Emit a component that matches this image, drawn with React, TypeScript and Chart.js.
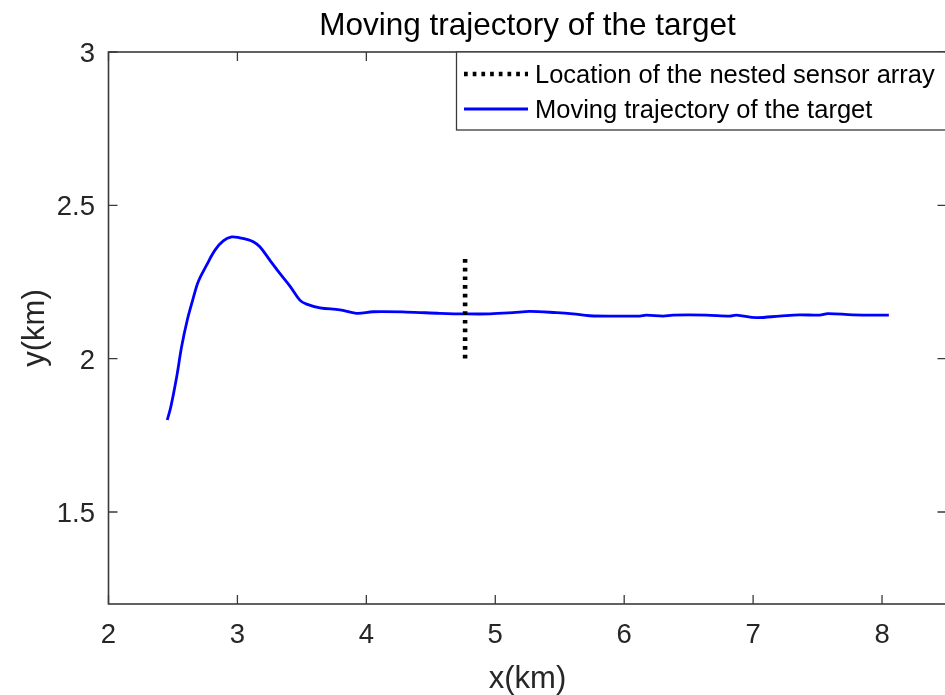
import React, { useEffect, useRef } from "react";
import { Chart, registerables } from "chart.js";

Chart.register(...registerables);

const TITLE = "Moving trajectory of the target";
const X_LABEL = "x(km)";
const Y_LABEL = "y(km)";

const SENSOR_LABEL = "Location of the nested sensor array";
const SENSOR_X = [4.766, 4.766];
const SENSOR_Y = [2.325, 1.985];

const TRACK_LABEL = "Moving trajectory of the target";
const TRACK_X = [
  2.456, 2.484, 2.529, 2.567, 2.611, 2.653, 2.696, 2.761, 2.826, 2.89, 2.955,
  3.019, 3.08, 3.123, 3.174, 3.25, 3.329, 3.41, 3.484, 3.536, 3.64, 3.795,
  3.924, 4.053, 4.312, 4.57, 4.766, 4.957, 5.138, 5.267, 5.474, 5.603, 5.733,
  5.965, 6.12, 6.172, 6.301, 6.378, 6.637, 6.818, 6.87, 7.025, 7.205, 7.36,
  7.516, 7.58, 7.774, 8.053,
];
const TRACK_Y = [
  1.8, 1.844, 1.941, 2.039, 2.126, 2.191, 2.251, 2.305, 2.354, 2.384, 2.397,
  2.394, 2.388, 2.381, 2.365, 2.322, 2.278, 2.235, 2.191, 2.178, 2.166, 2.159,
  2.148, 2.153, 2.152, 2.148, 2.146, 2.146, 2.15, 2.154, 2.15, 2.146, 2.14,
  2.139, 2.139, 2.142, 2.139, 2.142, 2.142, 2.139, 2.142, 2.134, 2.139, 2.143,
  2.142, 2.147, 2.143, 2.142,
];

const X_MIN = 2;
const X_MAX = 8.5;
const X_STEP = 1;
const Y_MIN = 1.2;
const Y_MAX = 3;
const Y_STEP = 0.5;

const FONT = "'Liberation Sans', Arial, Helvetica, sans-serif";
const AXIS_COLOR = "#3a3a3a";

const boxAndLegend = {
  id: "boxAndLegend",
  afterDraw(chart: any) {
    const { ctx, chartArea: a, scales } = chart;
    const TICK = 9;
    ctx.save();
    ctx.strokeStyle = AXIS_COLOR;
    ctx.lineWidth = 1.3;
    ctx.beginPath();
    for (const t of scales.x.ticks) {
      const px = scales.x.getPixelForValue(t.value);
      ctx.moveTo(px, a.bottom);
      ctx.lineTo(px, a.bottom - TICK);
      ctx.moveTo(px, a.top);
      ctx.lineTo(px, a.top + TICK);
    }
    for (const t of scales.y.ticks) {
      const py = scales.y.getPixelForValue(t.value);
      ctx.moveTo(a.left, py);
      ctx.lineTo(a.left + TICK, py);
      ctx.moveTo(a.right, py);
      ctx.lineTo(a.right - TICK, py);
    }
    ctx.stroke();
    ctx.lineWidth = 1.6;
    ctx.strokeRect(a.left, a.top, a.right - a.left, a.bottom - a.top);

    // legend
    const lx = 456.5;
    const ly = a.top;
    const lb = 130;
    ctx.fillStyle = "#fff";
    ctx.fillRect(lx, ly, a.right - lx, lb - ly);
    ctx.lineWidth = 1.3;
    ctx.strokeStyle = AXIS_COLOR;
    ctx.strokeRect(lx, ly, a.right - lx, lb - ly);
    const rows = [74, 109];
    chart.data.datasets.forEach((ds: any, i: number) => {
      const y = rows[i];
      ctx.save();
      ctx.beginPath();
      ctx.strokeStyle = ds.borderColor;
      ctx.lineWidth = ds.borderWidth;
      ctx.lineCap = "butt";
      ctx.setLineDash(ds.borderDash || []);
      ctx.moveTo(464, y);
      ctx.lineTo(528, y);
      ctx.stroke();
      ctx.restore();
      ctx.fillStyle = "#000";
      ctx.font = `25.5px ${FONT}`;
      ctx.textBaseline = "middle";
      ctx.textAlign = "left";
      ctx.fillText(ds.label, 535, y + 2);
    });
    ctx.restore();
  },
};

export default function App() {
  const ref = useRef<HTMLCanvasElement | null>(null);
  useEffect(() => {
    if (!ref.current) return;
    const chart = new Chart(ref.current, {
      type: "line",
      data: {
        datasets: [
          {
            label: SENSOR_LABEL,
            data: SENSOR_X.map((x, i) => ({ x, y: SENSOR_Y[i] })),
            borderColor: "#000000",
            borderWidth: 4.6,
            borderDash: [3.7, 5],
            borderCapStyle: "butt",
            pointRadius: 0,
            fill: false,
          },
          {
            label: TRACK_LABEL,
            data: TRACK_X.map((x, i) => ({ x, y: TRACK_Y[i] })),
            borderColor: "#0000ff",
            borderWidth: 2.8,
            pointRadius: 0,
            tension: 0.35,
            fill: false,
          },
        ],
      },
      options: {
        responsive: false,
        animation: false,
        devicePixelRatio: 1,
        layout: { padding: { left: 0, right: 3.5, top: 0, bottom: 0 } },
        plugins: {
          legend: { display: false },
          tooltip: { enabled: false },
          title: {
            display: true,
            text: TITLE,
            fullSize: false,
            color: "#000",
            font: { family: FONT, size: 31.5, weight: "normal", lineHeight: 1.2 },
            padding: { top: 7.6, bottom: 6.6 },
          },
        },
        scales: {
          x: {
            type: "linear",
            min: X_MIN,
            max: X_MAX,
            afterFit: (s: any) => {
              s.height = 91;
            },
            grid: { display: false, drawTicks: false },
            border: { display: false },
            ticks: {
              stepSize: X_STEP,
              includeBounds: false,
              padding: 14.5,
              color: "#262626",
              maxRotation: 0,
              autoSkip: false,
              font: { family: FONT, size: 27.5 },
              callback: (v: any) => String(v),
            },
            title: {
              display: true,
              text: X_LABEL,
              color: "#262626",
              font: { family: FONT, size: 31, lineHeight: 1 },
              padding: { top: 0, bottom: 0 },
            },
          },
          y: {
            type: "linear",
            min: Y_MIN,
            max: Y_MAX,
            afterFit: (s: any) => {
              s.width = 108.5;
            },
            grid: { display: false, drawTicks: false },
            border: { display: false },
            ticks: {
              stepSize: Y_STEP,
              includeBounds: false,
              padding: 13.5,
              labelOffset: 2.5,
              color: "#262626",
              autoSkip: false,
              font: { family: FONT, size: 27.5 },
              callback: (v: any) => String(v),
            },
            title: {
              display: true,
              text: Y_LABEL,
              color: "#262626",
              font: { family: FONT, size: 31, lineHeight: 1.2 },
              padding: { top: 17, bottom: 0 },
            },
          },
        },
      },
      plugins: [boxAndLegend],
    } as any);
    return () => chart.destroy();
  }, []);
  return (
    <div
      style={{
        position: "fixed",
        left: 0,
        top: 0,
        width: 945,
        height: 695,
        overflow: "hidden",
        background: "#fff",
      }}
    >
      <canvas ref={ref} width={950} height={695} style={{ display: "block" }} />
    </div>
  );
}
